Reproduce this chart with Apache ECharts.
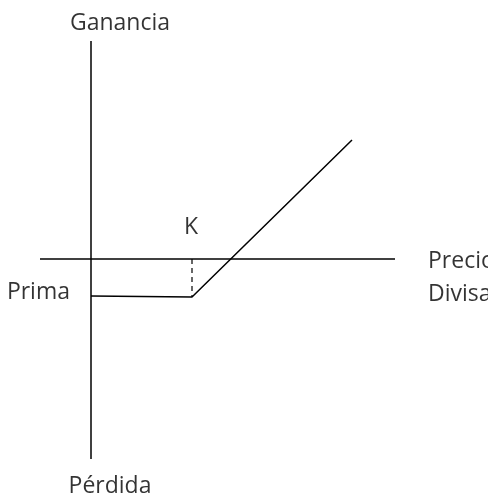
<!DOCTYPE html>
<html>
<head>
<meta charset="utf-8">
<script src="https://cdn.jsdelivr.net/npm/echarts@6/dist/echarts.min.js"></script>
<style>
  html, body { margin: 0; padding: 0; background: #fff; }
  #chart { width: 488px; height: 497px; }
</style>
</head>
<body>
<div id="chart"></div>
<script>
// ejes del diagrama (unidades del precio / ganancia)
var priceAxisRange = [-25.5, 152];
var profitAxisRange = [-100, 109];

// perfil de ganancia de la opción call
var payoffPrice = [0, 50.5, 130.5];
var payoffValue = [-18.5, -19, 59.5];

// precio de ejercicio y prima
var strikePrice = 50.5;
var primaValue = -18.5;

var textFont = {
	fontFamily: 'Open Sans',
	fontSize: 23,
	color: '#000'
};

function textPoint(x, y, text, pos, align) {
	return {
		value: [x, y],
		label: Object.assign({
			show: true,
			formatter: text,
			position: pos,
			align: align || 'center',
			verticalAlign: 'middle'
		}, textFont)
	};
}

var ec = echarts.init(document.getElementById('chart'), null, {renderer: 'canvas'});

var lineStyle = {color: '#000', width: 1.5};

var option = {
	animation: false,
	grid: {left: 31, width: 440, top: 19, height: 460},
	xAxis: {
		type: 'value', min: -30, max: 190,
		show: false
	},
	yAxis: {
		type: 'value', min: -110, max: 120,
		show: false
	},
	series: [
		{
			// eje vertical
			type: 'line',
			symbol: 'none',
			lineStyle: lineStyle,
			data: [[0, profitAxisRange[0]], [0, profitAxisRange[1]]]
		},
		{
			// eje horizontal
			type: 'line',
			symbol: 'none',
			lineStyle: lineStyle,
			data: [[priceAxisRange[0], 0], [priceAxisRange[1], 0]]
		},
		{
			type: 'line',
			symbol: 'none',
			lineStyle: lineStyle,
			data: payoffPrice.map(function(p, i) { return [p, payoffValue[i]]; })
		},
		{
			// linea punteada en K
			type: 'line',
			symbol: 'none',
			lineStyle: {color: '#000', width: 1.2, type: [5, 4]},
			data: [[strikePrice, 0], [strikePrice, payoffValue[1]]]
		},
		{
			type: 'scatter',
			symbolSize: 0,
			silent: true,
			data: [
				textPoint(0, profitAxisRange[1], 'Ganancia', [29, -18]),
				textPoint(0, profitAxisRange[0], 'Pérdida', [19, 27]),
				textPoint(strikePrice, 0, 'K', [-1, -32]),
				textPoint(0, primaValue, 'Prima', [-21, -4], 'right'),
				textPoint(priceAxisRange[1], 0, 'Precio', [33, 2], 'left'),
				textPoint(priceAxisRange[1], 0, 'Divisa', [33, 35], 'left')
			]
		}
	]
};

ec.setOption(option);
</script>
</body>
</html>
